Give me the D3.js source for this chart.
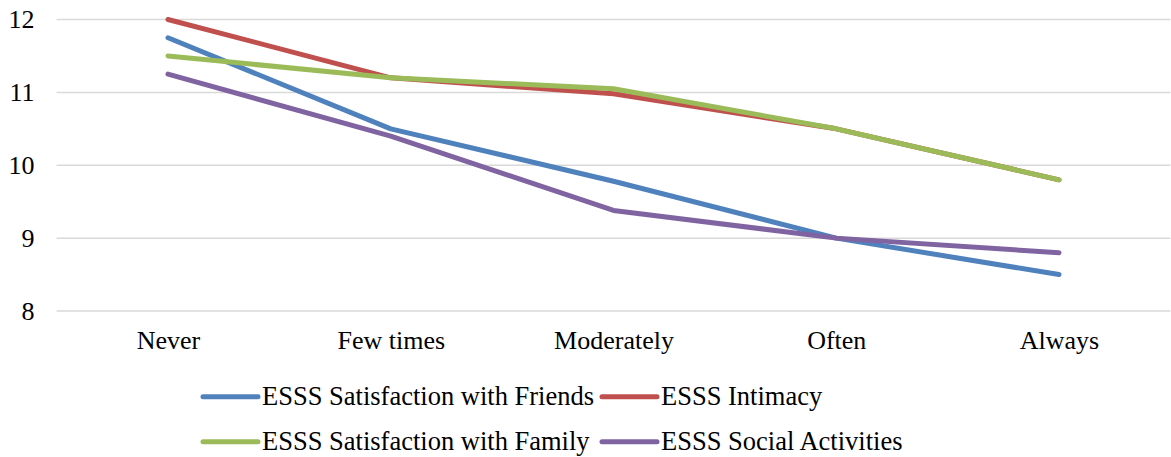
<!DOCTYPE html>
<html>
<head>
<meta charset="utf-8">
<script src="https://cdn.jsdelivr.net/npm/d3@7"></script>
</head>
<body style="margin:0">
<svg id="chart" width="1171" height="457"></svg>
<script>
// Frequency categories on the x axis
const categories = ["Never", "Few times", "Moderately", "Often", "Always"];

// ESSS subscale means per category
const friends  = [11.75, 10.5, 9.78, 9.0, 8.5];
const intimacy = [12.0, 11.2, 10.98, 10.5, 9.8];
const family   = [11.5, 11.2, 11.05, 10.5, 9.8];
const social   = [11.25, 10.4, 9.38, 9.0, 8.8];

const yTicks = [8, 9, 10, 11, 12];

const seriesNames = [
  "ESSS Satisfaction with Friends",
  "ESSS Intimacy",
  "ESSS Satisfaction with Family",
  "ESSS Social Activities"
];
const seriesValues = [friends, intimacy, family, social];
const seriesColors = ["#4F81BD", "#C0504D", "#9BBB59", "#8064A2"];

const FONT = "Liberation Serif";

const svg = d3.select("#chart")
  .attr("font-family", FONT)
  .style("font-family", FONT);
const plot = { left: 56.6, right: 1170.4, top: 19.5, bottom: 311 };

const x = d3.scalePoint()
  .domain(categories)
  .range([plot.left, plot.right])
  .padding(0.5);

const y = d3.scaleLinear()
  .domain([8, 12])
  .range([plot.bottom, plot.top]);

// Horizontal gridlines
svg.append("g")
  .selectAll("line")
  .data(yTicks)
  .join("line")
  .attr("x1", plot.left)
  .attr("x2", plot.right)
  .attr("y1", d => y(d))
  .attr("y2", d => y(d))
  .attr("stroke", "#D9D9D9")
  .attr("stroke-width", 1.5);

function styleAxis(g) {
  g.attr("font-family", FONT).attr("font-size", 26);
  g.select(".domain").remove();
  g.selectAll("text")
    .style("font-family", FONT)
    .attr("font-size", 26)
    .attr("fill", "#000");
}

// Y axis labels
svg.append("g")
  .attr("transform", `translate(${plot.left},0)`)
  .call(d3.axisLeft(y).tickValues(yTicks).tickSize(0).tickPadding(22).tickFormat(d3.format("d")))
  .call(styleAxis);

// X axis labels
svg.append("g")
  .attr("transform", `translate(0,${plot.bottom})`)
  .call(d3.axisBottom(x).tickSize(0).tickPadding(20))
  .call(styleAxis);

// Series lines
const line = d3.line()
  .x((d, i) => x(categories[i]))
  .y(d => y(d));

svg.append("g")
  .selectAll("path")
  .data(seriesValues)
  .join("path")
  .attr("d", d => line(d))
  .attr("fill", "none")
  .attr("stroke", (d, i) => seriesColors[i])
  .attr("stroke-width", 5)
  .attr("stroke-linecap", "round")
  .attr("stroke-linejoin", "round");

// Legend, two rows of two entries
const legendPos = [
  { x: 203, y: 396.7 },
  { x: 602, y: 396.7 },
  { x: 203, y: 441.7 },
  { x: 602, y: 441.7 }
];
const legend = svg.append("g")
  .selectAll("g")
  .data(seriesNames)
  .join("g")
  .attr("transform", (d, i) => `translate(${legendPos[i].x},${legendPos[i].y})`);

legend.append("line")
  .attr("x1", 0)
  .attr("x2", 55)
  .attr("stroke", (d, i) => seriesColors[i])
  .attr("stroke-width", 5)
  .attr("stroke-linecap", "round");

legend.append("text")
  .attr("x", 59)
  .attr("y", 8)
  .style("font-family", FONT)
  .attr("font-size", 26.5)
  .attr("fill", "#000")
  .text(d => d);
</script>
</body>
</html>
